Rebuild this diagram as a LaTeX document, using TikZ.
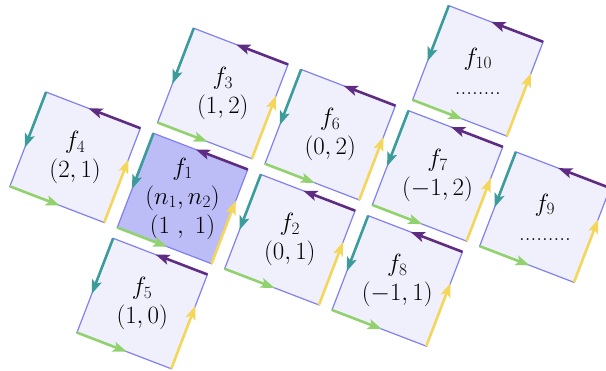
\documentclass[tikz,border=0pt]{standalone}
\usepackage{amsmath}
\usepackage{tikz}
\usetikzlibrary{arrows.meta,calc}

\definecolor{tileline}{HTML}{8080F2}
\definecolor{tilefill}{HTML}{F0F0FD}
\definecolor{tilemark}{HTML}{BCBCF6}
\definecolor{edgepurple}{HTML}{5E2C82}
\definecolor{edgeteal}{HTML}{3C9C9C}
\definecolor{edgegreen}{HTML}{92D26E}
\definecolor{edgeyellow}{HTML}{F4D65A}

\begin{document}
\begin{tikzpicture}[x=1pt, y=1pt,
  tile/.style={draw=tileline, line width=1.2pt, minimum size=101pt, inner sep=0pt, outer sep=0pt, transform shape},
  tilelabel/.style={align=center, font=\fontsize{23}{29}\selectfont},
  edge/.style={line width=2.6pt, -{Stealth[length=14pt, width=10pt, inset=3pt]}},
  edgetop/.style={edge, edgepurple},
  edgeleft/.style={edge, edgeteal},
  edgebottom/.style={edge, edgegreen},
  edgeright/.style={edge, edgeyellow}]
  \useasboundingbox (0,0) rectangle (606,-371);
  \clip (0,0) rectangle (606,-371);
  % tiles on a tilted grid, (1,1) is the marked one
  \begin{scope}[shift={(182.5,-198.5)}, rotate=-21]
    \foreach \tname/\ni/\nj/\tfill/\ttext in {
        f1/1/1/tilemark/{$f_1$\\$(n_1,n_2)$\\$(1\ ,\ 1)$},
        f2/0/1/tilefill/{$f_2$\\$(0,1)$},
        f3/1/2/tilefill/{$f_3$\\$(1,2)$},
        f4/2/1/tilefill/{$f_4$\\$(2,1)$},
        f5/1/0/tilefill/{$f_5$\\$(1,0)$},
        f6/0/2/tilefill/{$f_6$\\$(0,2)$},
        f7/-1/2/tilefill/{$f_7$\\$(-1,2)$},
        f8/-1/1/tilefill/{$f_8$\\$(-1,1)$},
        f9/-2/2/tilefill/{$f_9$\\.........},
        f10/-1/3/tilefill/{$f_{10}$\\........}} {
      \node[tile, fill=\tfill] (\tname) at ({115*(1-\ni)},{112.5*(\nj-1)}) {};
      \node[tilelabel] (\tname-text) at (\tname) {\ttext};
      \draw[edgetop] (\tname.north east) -- ($(\tname.north east)!0.55!(\tname.north west)$);
      \draw[edgeleft] (\tname.north west) -- ($(\tname.north west)!0.59!(\tname.south west)$);
      \draw[edgebottom] (\tname.south west) -- ($(\tname.south west)!0.53!(\tname.south east)$);
      \draw[edgeright] (\tname.south east) -- ($(\tname.south east)!0.67!(\tname.north east)$);
    }
  \end{scope}
\end{tikzpicture}
\end{document}
